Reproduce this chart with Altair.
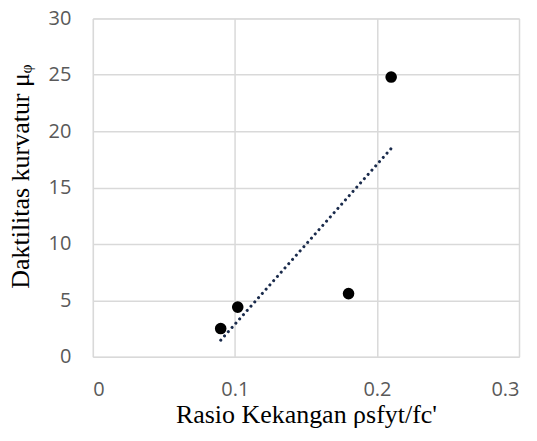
import altair as alt
import pandas as pd

rasio = [0.090, 0.102, 0.180, 0.210]
daktilitas = [2.5, 4.4, 5.6, 24.8]

df = pd.DataFrame({"x": rasio, "y": daktilitas})

xscale = alt.Scale(domain=[0, 0.3], nice=False)
yscale = alt.Scale(domain=[0, 30], nice=False)

xaxis = alt.Axis(
    title="Rasio Kekangan ρsfyt/fc'",
    values=[0, 0.1, 0.2, 0.3],
    format="~g",
    grid=True,
    gridColor="#d9d9d9",
    gridWidth=1.5,
    domain=False,
    ticks=False,
    labelFont="Open Sans",
    labelFontSize=20,
    labelColor="#595959",
    labelPadding=23,
    titleFont="Liberation Serif",
    titleFontSize=26,
    titleFontWeight="normal",
    titleColor="#000000",
    titleBaseline="alphabetic",
    titleY=66,
)
yaxis = alt.Axis(
    title="Daktilitas kurvatur μᵩ",
    values=[0, 5, 10, 15, 20, 25, 30],
    grid=True,
    gridColor="#d9d9d9",
    gridWidth=1.5,
    domain=False,
    ticks=False,
    labelFont="Open Sans",
    labelFontSize=20,
    labelColor="#595959",
    labelPadding=22,
    titleFont="Liberation Serif",
    titleFontSize=26,
    titleFontWeight="normal",
    titleColor="#000000",
    titleBaseline="alphabetic",
    titleAngle=270,
    titleAlign="center",
    titleX=-64,
    titleY=158,
)

base = alt.Chart(df)

trend = base.transform_regression("x", "y").mark_line(
    color="#1a2b4c", strokeWidth=3, strokeDash=[0.1, 5.6], strokeCap="round"
).encode(
    x=alt.X("x:Q", scale=xscale, axis=xaxis),
    y=alt.Y("y:Q", scale=yscale, axis=yaxis),
)

points = base.mark_circle(color="#000000", opacity=1, size=135).encode(
    x=alt.X("x:Q", scale=xscale, axis=xaxis),
    y=alt.Y("y:Q", scale=yscale, axis=yaxis),
)

chart = (
    alt.layer(trend, points)
    .properties(
        width=427,
        height=339,
        autosize=alt.AutoSizeParams(type="none"),
        padding={"left": 85, "top": 10, "right": 10, "bottom": 72},
    )
    .configure_view(stroke=None)
    .configure(background="white")
)

chart.save("out.html", embed_options={"renderer": "svg", "actions": False})
